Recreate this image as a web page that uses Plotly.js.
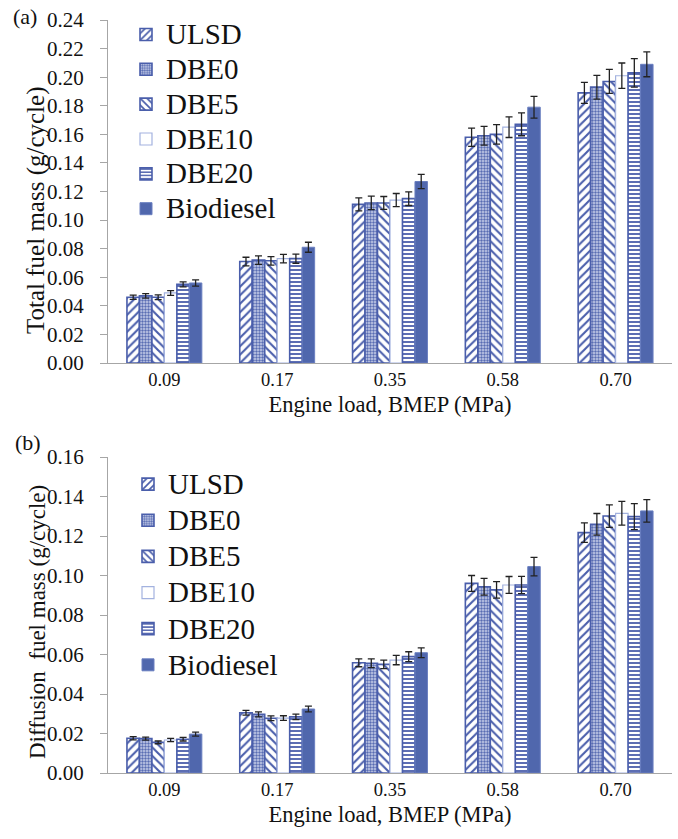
<!DOCTYPE html>
<html>
<head>
<meta charset="utf-8">
<script src="https://cdn.plot.ly/plotly-3.0.1.min.js"></script>
<style>
html,body{margin:0;padding:0;background:#fff;}
#chart{width:678px;height:839px;}
#chart svg text{font-family:"Liberation Serif","Times New Roman",serif !important;}
</style>
</head>
<body>
<div id="chart"></div>
<script>
// ---- data ----
var loads = ["0.09", "0.17", "0.35", "0.58", "0.70"];
var seriesNames = ["ULSD", "DBE0", "DBE5", "DBE10", "DBE20", "Biodiesel"];

// (a) Total fuel mass (g/cycle)
var totULSD = [0.046, 0.071, 0.111, 0.158, 0.189];
var totDBE0 = [0.047, 0.072, 0.112, 0.159, 0.193];
var totDBE5 = [0.046, 0.0715, 0.112, 0.160, 0.197];
var totDBE10 = [0.049, 0.073, 0.114, 0.165, 0.201];
var totDBE20 = [0.055, 0.073, 0.115, 0.167, 0.203];
var totBio = [0.056, 0.081, 0.127, 0.179, 0.209];
var totErrULSD = [0.0015, 0.003, 0.0045, 0.0064, 0.0073];
var totErrDBE0 = [0.0016, 0.003, 0.0047, 0.0065, 0.0083];
var totErrDBE5 = [0.0016, 0.003, 0.0045, 0.0068, 0.0084];
var totErrDBE10 = [0.0017, 0.003, 0.0046, 0.0072, 0.0089];
var totErrDBE20 = [0.0018, 0.0032, 0.0048, 0.008, 0.010];
var totErrBio = [0.0022, 0.0035, 0.005, 0.0076, 0.0087];

// (b) Diffusion fuel mass (g/cycle)
var difULSD = [0.0176, 0.0305, 0.0558, 0.096, 0.1217];
var difDBE0 = [0.0174, 0.0297, 0.0556, 0.0943, 0.1259];
var difDBE5 = [0.0155, 0.0277, 0.055, 0.0927, 0.1301];
var difDBE10 = [0.0167, 0.0278, 0.0572, 0.0952, 0.1315];
var difDBE20 = [0.0171, 0.0284, 0.0589, 0.0952, 0.1298];
var difBio = [0.0197, 0.0324, 0.0609, 0.1045, 0.1327];
var difErrULSD = [0.0008, 0.0012, 0.002, 0.004, 0.0049];
var difErrDBE0 = [0.0008, 0.0013, 0.0022, 0.0042, 0.0055];
var difErrDBE5 = [0.0007, 0.0012, 0.0022, 0.0042, 0.0057];
var difErrDBE10 = [0.0008, 0.0012, 0.0024, 0.0043, 0.006];
var difErrDBE20 = [0.0009, 0.0014, 0.0025, 0.0044, 0.0066];
var difErrBio = [0.001, 0.0015, 0.0025, 0.0047, 0.0057];

var totVals = [totULSD, totDBE0, totDBE5, totDBE10, totDBE20, totBio];
var totErrs = [totErrULSD, totErrDBE0, totErrDBE5, totErrDBE10, totErrDBE20, totErrBio];
var difVals = [difULSD, difDBE0, difDBE5, difDBE10, difDBE20, difBio];
var difErrs = [difErrULSD, difErrDBE0, difErrDBE5, difErrDBE10, difErrDBE20, difErrBio];

// ---- styles ----
var BLUE = "#4a5eab";
var FONT = "Liberation Serif";
var styles = [
  {color: "#ffffff", pattern: {shape: "/", size: 6, solidity: 0.35, fgcolor: BLUE, bgcolor: "#ffffff"}, line: {color: BLUE, width: 1.6}},
  {color: "#ffffff", pattern: {shape: ".", size: 3, solidity: 0.5, fgcolor: "#5a6db3", bgcolor: "#c9d0ea"}, line: {color: BLUE, width: 1.6}},
  {color: "#ffffff", pattern: {shape: "\\", size: 6, solidity: 0.35, fgcolor: BLUE, bgcolor: "#ffffff"}, line: {color: BLUE, width: 1.6}},
  {color: "#ffffff", pattern: null, line: {color: "#a3b2df", width: 1.2}},
  {color: "#ffffff", pattern: {shape: "-", size: 4, solidity: 0.45, fgcolor: BLUE, bgcolor: "#ffffff"}, line: {color: BLUE, width: 1.6}},
  {color: "#5067ad", pattern: null, line: {color: "#6a7fc0", width: 1}}
];

var traces = [];
function addTraces(vals, errs, xa, ya, legendId) {
  for (var i = 0; i < seriesNames.length; i++) {
    var s = styles[i];
    var marker = {color: s.color, line: s.line};
    if (s.pattern) marker.pattern = s.pattern;
    traces.push({
      type: "bar",
      name: '<span style="font-size:29px">' + seriesNames[i] + '</span>',
      x: loads,
      y: vals[i],
      xaxis: xa,
      yaxis: ya,
      legend: legendId,
      marker: marker,
      error_y: {type: "data", array: errs[i], visible: true, color: "#222222", thickness: 1.3, width: 3.5},
      hoverinfo: "x+y"
    });
  }
}
addTraces(totVals, totErrs, "x", "y", "legend");
addTraces(difVals, difErrs, "x2", "y2", "legend2");

// pixel helpers for layout placement
var W = 678, H = 839, ML = 108, MR = 6, MT = 20, MB = 66;
var PW = W - ML - MR, PH = H - MT - MB;
function px(xp) { return (xp - ML) / PW; }
function py(yp) { return (H - MB - yp) / PH; }

function yAxis(domain, anchor, range) {
  return {
    domain: domain, anchor: anchor, range: range, dtick: 0.02, tick0: 0, tickformat: ".2f",
    showline: true, linecolor: "#a6a6a6", linewidth: 1, showgrid: false, zeroline: false,
    ticks: "outside", ticklen: 7, tickcolor: "#a6a6a6", ticklabelstandoff: 12,
    tickfont: {family: FONT, size: 21, color: "#111"}
  };
}
function xAxis(anchor) {
  return {
    domain: [0, 1], anchor: anchor, type: "category", ticks: "",
    showline: true, linecolor: "#a6a6a6", linewidth: 1, showgrid: false, zeroline: false,
    tickfont: {family: FONT, size: 18.5, color: "#111"},
    title: {text: "Engine load, BMEP (MPa)", font: {family: FONT, size: 22.5, color: "#111"}, standoff: 7}
  };
}

var layout = {
  width: W, height: H,
  margin: {l: ML, r: MR, t: MT, b: MB},
  paper_bgcolor: "#ffffff", plot_bgcolor: "#ffffff",
  barmode: "group", bargap: 0.336, bargroupgap: 0,
  showlegend: true,
  font: {family: FONT, size: 20, color: "#111"},
  xaxis: xAxis("y"),
  yaxis: yAxis([py(363), py(20)], "x", [0, 0.24]),
  xaxis2: xAxis("y2"),
  yaxis2: yAxis([0, py(457)], "x2", [0, 0.16]),
  legend: {
    x: px(126), y: py(12), xanchor: "left", yanchor: "top",
    font: {family: FONT, size: 24.5, color: "#111"},
    bgcolor: "rgba(0,0,0,0)", tracegroupgap: 0, itemwidth: 30
  },
  legend2: {
    x: px(128), y: py(461), xanchor: "left", yanchor: "top",
    font: {family: FONT, size: 25.5, color: "#111"},
    bgcolor: "rgba(0,0,0,0)", tracegroupgap: 0, itemwidth: 30
  },
  annotations: [
    {text: "(a)", xref: "paper", yref: "paper", x: px(11), y: py(16), xanchor: "left", yanchor: "middle", showarrow: false, font: {family: FONT, size: 22, color: "#111"}},
    {text: "(b)", xref: "paper", yref: "paper", x: px(13), y: py(443), xanchor: "left", yanchor: "middle", showarrow: false, font: {family: FONT, size: 22, color: "#111"}},
    {text: "Total fuel mass (g/cycle)", xref: "paper", yref: "paper", x: px(36), y: py(211), xanchor: "center", yanchor: "middle", textangle: -90, showarrow: false, font: {family: FONT, size: 25, color: "#111"}},
    {text: "Diffusion  fuel mass (g/cycle)", xref: "paper", yref: "paper", x: px(37), y: py(622), xanchor: "center", yanchor: "middle", textangle: -90, showarrow: false, font: {family: FONT, size: 23, color: "#111"}}
  ]
};

Plotly.newPlot("chart", traces, layout, {displayModeBar: false, staticPlot: true});
</script>
</body>
</html>
